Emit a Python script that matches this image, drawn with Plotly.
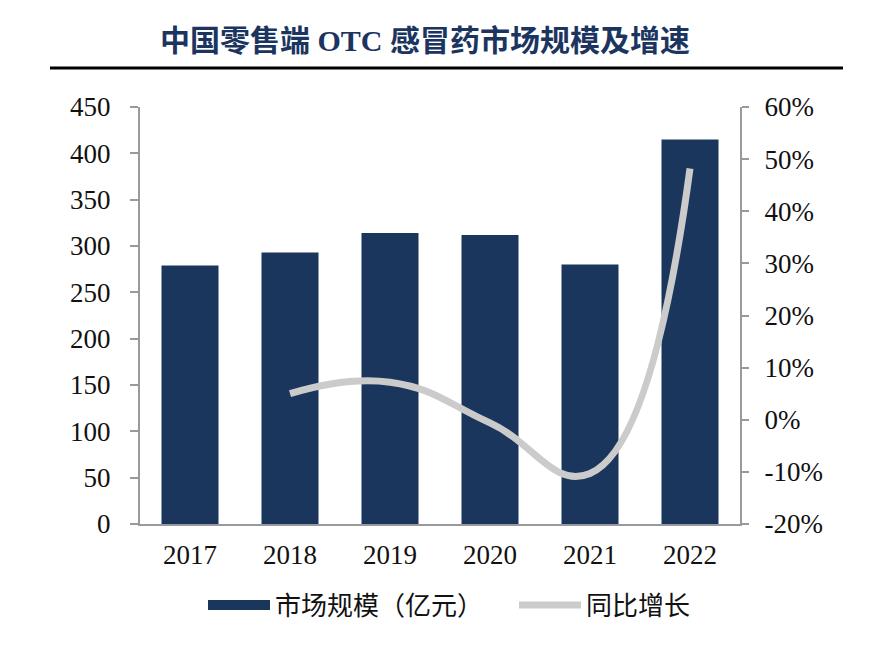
import plotly.graph_objects as go

years = ["2017", "2018", "2019", "2020", "2021", "2022"]
market_size = [279, 293, 314, 312, 280, 415]
growth_years = ["2018", "2019", "2020", "2021", "2022"]
growth_pct = [5.0, 7.2, -0.6, -10.3, 48.2]

left_ticks = [0, 50, 100, 150, 200, 250, 300, 350, 400, 450]
right_ticks = [-20, -10, 0, 10, 20, 30, 40, 50, 60]
right_labels = [f"{v}%" for v in right_ticks]

NAVY = "#1a365d"
GRAY = "#cbcbcb"
AXIS = "#9a9a9a"
FONT = "Liberation Serif, Noto Sans CJK SC, serif"

fig = go.Figure()
fig.add_trace(go.Bar(x=years, y=market_size, marker=dict(color=NAVY, line=dict(width=0)),
                     name="市场规模（亿元）", showlegend=False, yaxis="y"))
# legend proxy for bars (wide swatch)
fig.add_trace(go.Scatter(x=[None], y=[None], mode="lines", line=dict(color=NAVY, width=14),
                         name="市场规模（亿元）\u3000\u2002", yaxis="y"))
fig.add_trace(go.Scatter(x=growth_years, y=growth_pct, mode="lines",
                         line=dict(color=GRAY, width=7, shape="spline", smoothing=1.3),
                         name="同比增长", yaxis="y2"))

W, H = 869, 639
fig.update_layout(
    width=W, height=H,
    paper_bgcolor="white", plot_bgcolor="white",
    margin=dict(l=132, r=137, t=99, b=123),
    font=dict(family=FONT, size=27, color="#111111"),
    bargap=0.43,
    title=dict(text="<b>中国零售端 OTC 感冒药市场规模及增速</b>", x=(425 - 8) / W, xanchor="center",
               y=1 - 32 / H, yanchor="middle",
               font=dict(family=FONT, size=30, color="#1b3560")),
    xaxis=dict(type="category", categoryorder="array", categoryarray=years,
               showline=True, linecolor=AXIS, linewidth=2, ticks="", showgrid=False,
               tickfont=dict(size=27), ticklabelstandoff=6),
    yaxis=dict(range=[0, 450], tickvals=left_ticks, showline=True, linecolor=AXIS, linewidth=2,
               ticks="outside", ticklen=8, tickcolor=AXIS, tickwidth=2, showgrid=False,
               zeroline=False, tickfont=dict(size=27), ticklabelstandoff=14),
    yaxis2=dict(range=[-20, 60], tickvals=right_ticks, ticktext=right_labels, overlaying="y",
                side="right", showline=True, linecolor=AXIS, linewidth=2, ticks="outside",
                ticklen=7, tickcolor=AXIS, tickwidth=2, showgrid=False, zeroline=False,
                tickfont=dict(size=27), ticklabelstandoff=10),
    legend=dict(orientation="h", x=63 / 600, xanchor="left", y=-81 / 417, yanchor="middle",
                font=dict(size=26), itemwidth=62, tracegroupgap=0, bgcolor="rgba(0,0,0,0)"),
    shapes=[dict(type="line", xref="paper", yref="paper", x0=-90 / 600, x1=703 / 600,
                 y0=1 + 39 / 417, y1=1 + 39 / 417, line=dict(color="black", width=3))],
)

fig.write_html("out.html")
